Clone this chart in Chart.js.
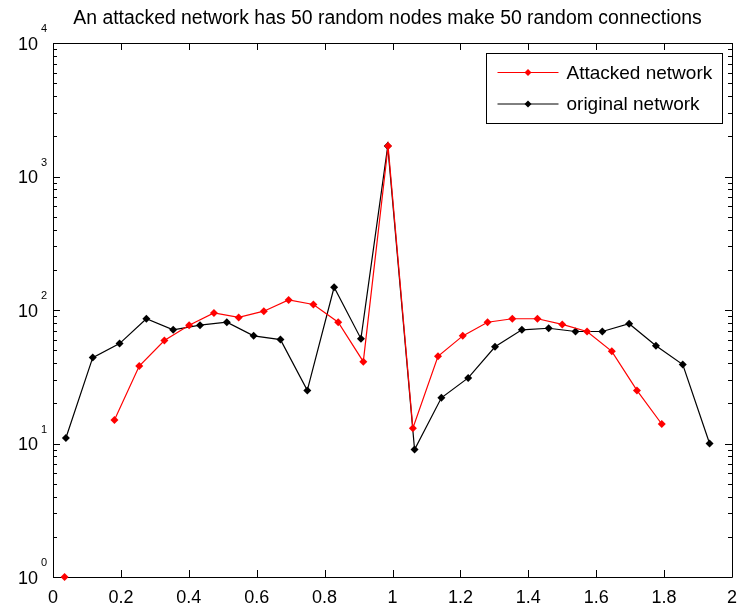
<!DOCTYPE html>
<html>
<head>
<meta charset="utf-8">
<script src="https://cdn.jsdelivr.net/npm/chart.js@4.4.1/dist/chart.umd.min.js"></script>
<style>
  body { margin: 0; background: #fff; }
  #box { width: 741px; height: 608px; }
</style>
</head>
<body>
<div id="box"><canvas id="netChart"></canvas></div>
<script>
const chartTitle = 'An attacked network has 50 random nodes make 50 random connections';
const seriesNames = ['Attacked network', 'original network'];

// bin centres
const attackedX = [0.034, 0.108, 0.181, 0.254, 0.328, 0.401, 0.474, 0.547, 0.621, 0.694, 0.767, 0.840, 0.914,
                   0.987, 1.060, 1.134, 1.207, 1.280, 1.353, 1.427, 1.500, 1.573, 1.646, 1.720, 1.793];
const attackedY = [1, null, 15, 38, 59, 77, 95, 88, 98, 119, 110, 81, 41,
                   1690, 13, 45, 64, 81, 86, 86, 78, 69, 49, 25, 14];

const originalX = [0.038, 0.117, 0.196, 0.275, 0.354, 0.433, 0.512, 0.591, 0.670, 0.749, 0.828, 0.907, 0.986,
                   1.065, 1.144, 1.223, 1.302, 1.381, 1.460, 1.539, 1.618, 1.697, 1.776, 1.855, 1.934];
const originalY = [11, 44, 56, 86, 71, 77, 81, 64, 60, 25, 148, 61, 1690,
                   9, 22, 31, 53, 71, 73, 69, 69, 79, 54, 39, 10];

const xTicks = [0, 0.2, 0.4, 0.6, 0.8, 1, 1.2, 1.4, 1.6, 1.8, 2];
const yDecades = [0, 1, 2, 3, 4];

const FONT = '"Liberation Sans", Arial, sans-serif';

function toPoints(xs, ys) {
    return xs.map((x, i) => ({ x: x, y: ys[i] }));
}

// matlab style box, inward ticks, y labels, title and legend
const matlabAxes = {
    id: 'matlabAxes',
    beforeDatasetsDraw(chart) {
        const ctx = chart.ctx;
        const a = chart.chartArea;
        const xs = chart.scales.x;
        const ys = chart.scales.y;
        ctx.save();
        ctx.strokeStyle = '#000';
        ctx.lineWidth = 1;
        ctx.beginPath();
        ctx.rect(Math.round(a.left) + 0.5, Math.round(a.top) + 0.5,
                 Math.round(a.right - a.left), Math.round(a.bottom - a.top));
        xTicks.forEach(v => {
            const px = Math.round(xs.getPixelForValue(v)) + 0.5;
            ctx.moveTo(px, a.bottom);
            ctx.lineTo(px, a.bottom - 7);
            ctx.moveTo(px, a.top);
            ctx.lineTo(px, a.top + 7);
        });
        yDecades.forEach(d => {
            for (let m = 1; m < 10; m++) {
                if (d === 4 && m > 1) break;
                const py = Math.round(ys.getPixelForValue(m * Math.pow(10, d))) + 0.5;
                const len = m === 1 ? 7 : 4;
                ctx.moveTo(a.left, py);
                ctx.lineTo(a.left + len, py);
                ctx.moveTo(a.right, py);
                ctx.lineTo(a.right - len, py);
            }
        });
        ctx.stroke();
        ctx.restore();
    },
    afterDraw(chart) {
        const ctx = chart.ctx;
        const a = chart.chartArea;
        const ys = chart.scales.y;
        ctx.save();
        ctx.fillStyle = '#000';

        // y tick labels 10^n
        yDecades.forEach(d => {
            const py = ys.getPixelForValue(Math.pow(10, d));
            ctx.font = '18px ' + FONT;
            ctx.textAlign = 'right';
            ctx.textBaseline = 'middle';
            ctx.fillText('10', a.left - 15, py + 2);
            ctx.font = '11px ' + FONT;
            ctx.textAlign = 'left';
            ctx.textBaseline = 'alphabetic';
            ctx.fillText(String(d), a.left - 12, py - 11);
        });

        // title
        ctx.font = '19.4px ' + FONT;
        ctx.textAlign = 'center';
        ctx.textBaseline = 'alphabetic';
        ctx.fillText(chartTitle, (a.left + a.right) / 2 - 5, 24);

        // legend
        const bx = Math.round(a.right) - 245.5, by = Math.round(a.top) + 10.5, bw = 236, bh = 70;
        ctx.fillStyle = '#fff';
        ctx.fillRect(bx, by, bw, bh);
        ctx.strokeStyle = '#000';
        ctx.lineWidth = 1;
        ctx.strokeRect(bx, by, bw, bh);
        chart.data.datasets.forEach((ds, i) => {
            const ly = by + 19 + i * 31.5;
            ctx.strokeStyle = ds.borderColor;
            ctx.beginPath();
            ctx.moveTo(bx + 11, ly);
            ctx.lineTo(bx + 72, ly);
            ctx.stroke();
            ctx.fillStyle = ds.borderColor;
            ctx.beginPath();
            ctx.moveTo(bx + 41.5, ly - 3.5);
            ctx.lineTo(bx + 45, ly);
            ctx.lineTo(bx + 41.5, ly + 3.5);
            ctx.lineTo(bx + 38, ly);
            ctx.closePath();
            ctx.fill();
            ctx.fillStyle = '#000';
            ctx.font = '19px ' + FONT;
            ctx.textAlign = 'left';
            ctx.textBaseline = 'middle';
            ctx.fillText(ds.label, bx + 80, ly + 1);
        });
        ctx.restore();
    }
};

new Chart(document.getElementById('netChart'), {
    type: 'line',
    data: {
        datasets: [
            {
                label: seriesNames[0],
                data: toPoints(attackedX, attackedY),
                borderColor: '#ff0000',
                backgroundColor: '#ff0000',
                borderWidth: 1.2,
                pointStyle: 'rectRot',
                pointRadius: 4,
                pointBorderWidth: 0,
                tension: 0,
                spanGaps: false,
                clip: false
            },
            {
                label: seriesNames[1],
                data: toPoints(originalX, originalY),
                borderColor: '#000000',
                backgroundColor: '#000000',
                borderWidth: 1.2,
                pointStyle: 'rectRot',
                pointRadius: 4,
                pointBorderWidth: 0,
                tension: 0,
                clip: false
            }
        ]
    },
    options: {
        responsive: true,
        maintainAspectRatio: false,
        animation: false,
        layout: {
            padding: { top: 43, right: 9, left: 0, bottom: 0 }
        },
        plugins: {
            legend: { display: false },
            title: { display: false },
            tooltip: { enabled: false }
        },
        scales: {
            x: {
                type: 'linear',
                min: 0,
                max: 2,
                grid: { display: false, drawTicks: false },
                border: { display: false },
                afterFit: scale => {
                    scale.height = 31;
                    scale.paddingLeft = 0;
                    scale.paddingRight = 0;
                },
                ticks: {
                    stepSize: 0.2,
                    padding: 10,
                    color: '#000',
                    font: { family: FONT, size: 18 },
                    maxRotation: 0,
                    callback: v => String(Number(v.toFixed(1)))
                }
            },
            y: {
                type: 'logarithmic',
                min: 1,
                max: 10000,
                grid: { display: false, drawTicks: false },
                border: { display: false },
                afterFit: scale => { scale.width = 53; },
                ticks: { display: false }
            }
        }
    },
    plugins: [matlabAxes]
});
</script>
</body>
</html>
